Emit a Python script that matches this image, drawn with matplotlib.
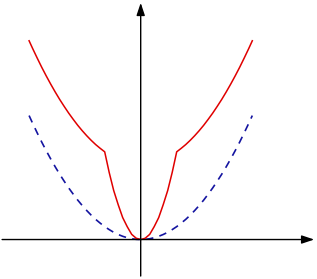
import matplotlib
matplotlib.use("Agg")
import matplotlib.pyplot as plt

# readings, right half (x in units where the kink sits at 1)
# both curves are symmetric about the vertical axis
half_x = [0.0, 0.125, 0.25, 0.375, 0.5, 0.625, 0.75, 0.875, 1.0,
          1.125, 1.25, 1.375, 1.5, 1.625, 1.75, 1.875, 2.0, 2.125,
          2.25, 2.375, 2.5, 2.625, 2.75, 2.875, 3.0, 3.1]
red_half = [0.0, 0.1, 0.4, 1.0, 1.7, 2.7, 3.8, 5.2, 6.8,
            7.07, 7.36, 7.69, 8.05, 8.44, 8.86, 9.32, 9.8, 10.32,
            10.86, 11.44, 12.05, 12.69, 13.36, 14.07, 14.8, 15.41]
blue_half = [0.0, 0.016, 0.06, 0.14, 0.25, 0.39, 0.56, 0.77, 1.0,
             1.27, 1.56, 1.89, 2.25, 2.64, 3.06, 3.52, 4.0, 4.52,
             5.06, 5.64, 6.25, 6.89, 7.56, 8.27, 9.0, 9.61]

xs = [-v for v in half_x[:0:-1]] + half_x
red_y = red_half[:0:-1] + red_half
blue_y = blue_half[:0:-1] + blue_half

fig = plt.figure(figsize=(3.17, 2.79), dpi=100)
ax = fig.add_axes([0, 0, 1, 1])
ax.set_xlim(-3.908, 4.897)
ax.set_ylim(-3.06, 18.57)
ax.axis("off")

# axes with arrow heads
arrow = dict(arrowstyle="-|>,head_length=0.75,head_width=0.25",
             color="black", lw=1.0, shrinkA=0, shrinkB=0)
ax.annotate("", xy=(4.82, 0), xytext=(-3.85, 0), arrowprops=arrow)
ax.annotate("", xy=(0, 18.35), xytext=(0, -2.83), arrowprops=arrow)

ax.plot(xs, blue_y, color="#1414a0", lw=1.2, dashes=(4.5, 3.8))
ax.plot(xs, red_y, color="#e00000", lw=1.1)

fig.savefig("out.png", dpi=100)
